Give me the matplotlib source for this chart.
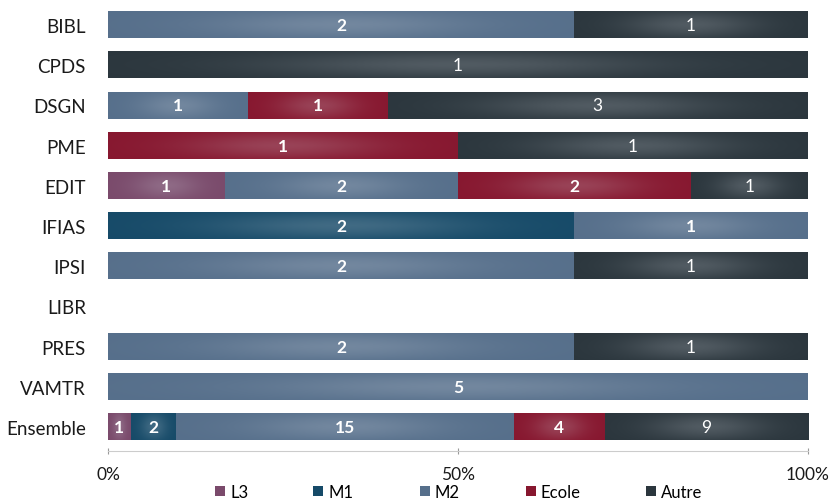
import numpy as np
import matplotlib
matplotlib.use('Agg')
import matplotlib.pyplot as plt
from matplotlib.colors import to_rgb
from matplotlib.patches import Patch

plt.rcParams['font.family'] = ['Lato', 'DejaVu Sans']

# Data
categories = ['BIBL', 'CPDS', 'DSGN', 'PME', 'EDIT', 'IFIAS', 'IPSI', 'LIBR', 'PRES', 'VAMTR', 'Ensemble']
series = ['L3', 'M1', 'M2', 'Ecole', 'Autre']
l3 = [0, 0, 0, 0, 1, 0, 0, 0, 0, 0, 1]
m1 = [0, 0, 0, 0, 0, 2, 0, 0, 0, 0, 2]
m2 = [2, 0, 1, 0, 2, 1, 2, 0, 2, 5, 15]
ecole = [0, 0, 1, 1, 2, 0, 0, 0, 0, 0, 4]
autre = [1, 1, 3, 1, 1, 0, 1, 0, 1, 0, 9]

colors = ['#7a4a6b', '#164a68', '#566f8b', '#87172f', '#2b363d']
values = np.array([l3, m1, m2, ecole, autre], dtype=float)
totals = values.sum(axis=0)
pct = np.divide(values, totals, out=np.zeros_like(values), where=totals > 0) * 100

fig = plt.figure(figsize=(8.31, 5.02), dpi=100)
ax = fig.add_axes([0.13, 0.1076, 0.842, 0.8804])

y = np.arange(len(categories))
bar_h = 0.65


def shade(ax, x0, w, yc, h, color):
    # lighter band in the middle of every segment
    nx, ny = 200, 40
    u = np.linspace(0, 1, nx)[None, :]
    v = np.linspace(0, 1, ny)[:, None]
    fx = np.exp(-((u - 0.5) / 0.28) ** 2)
    fy = 1 - 0.7 * np.abs(2 * v - 1) ** 1.5
    f = 0.22 * fx * fy
    base = np.array(to_rgb(color))
    img = base[None, None, :] * (1 - f[..., None]) + np.array([0.85, 0.87, 0.9]) * f[..., None]
    ax.imshow(img, extent=(x0, x0 + w, yc + h / 2, yc - h / 2), aspect='auto',
              interpolation='bilinear', zorder=3)


left = np.zeros(len(categories))
for i, name in enumerate(series):
    bars = ax.barh(y, pct[i], left=left, height=bar_h, color=colors[i], zorder=2, label=name)
    for j, b in enumerate(bars):
        if pct[i][j] <= 0:
            continue
        shade(ax, b.get_x(), b.get_width(), b.get_y() + b.get_height() / 2, b.get_height(), colors[i])
        cx = b.get_x() + b.get_width() / 2
        ax.text(cx, y[j], f'{int(values[i][j])}', ha='center', va='center', color='white',
                fontsize=12.5, fontweight='normal' if name == 'Autre' else 'bold', zorder=4)
    left += pct[i]

ax.set_xlim(0, 100)
ax.set_ylim(len(categories) - 0.5, -0.5)
ax.tick_params(axis='y', length=0, pad=16, labelsize=13.5, labelcolor='#1a1a1a')
ax.tick_params(axis='x', length=5, direction='inout', color='#999999', pad=8,
               labelsize=12.5, labelcolor='#1a1a1a')
ax.set_yticks(y)
ax.set_yticklabels(categories)
ax.set_xticks([0, 50, 100])
ax.set_xticklabels(['0%', '50%', '100%'])
for s in ['top', 'right', 'left']:
    ax.spines[s].set_visible(False)
ax.spines['bottom'].set_position(('outward', 3))
ax.spines['bottom'].set_color('#cccccc')

# one legend entry per series, placed like the original
leg_x = [215, 313, 420, 526, 646]
for s, c, lx in zip(series, colors, leg_x):
    fig.legend(handles=[Patch(facecolor=c, label=s)], loc='center left',
               bbox_to_anchor=(lx / 831, 0.018), frameon=False, fontsize=12,
               handlelength=0.6, handleheight=0.6, handletextpad=0.3,
               borderpad=0, borderaxespad=0)

fig.savefig('out.png', dpi=100)
